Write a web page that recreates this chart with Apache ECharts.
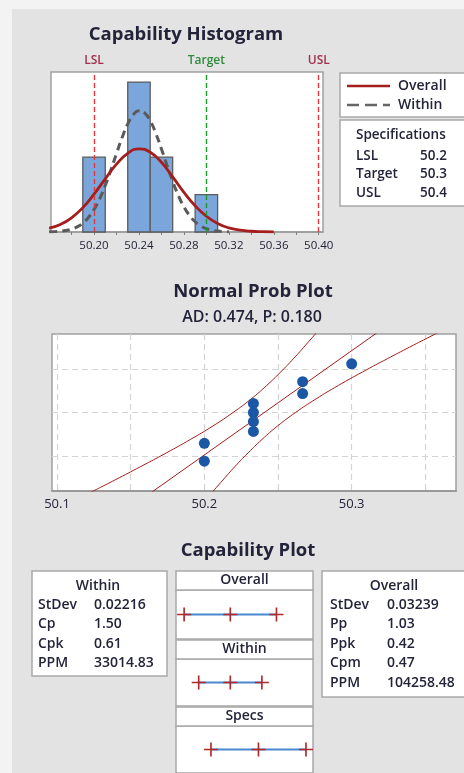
<!DOCTYPE html>
<html>
<head>
<meta charset="utf-8">
<script src="https://cdn.jsdelivr.net/npm/echarts@6/dist/echarts.min.js"></script>
<style>
html, body { margin: 0; padding: 0; background: #f3f3f3; }
#panel { position: absolute; left: 12px; top: 9px; width: 452px; height: 764px; background: #e3e3e3; }
#chart { position: absolute; left: 0; top: 0; width: 464px; height: 773px; }
</style>
</head>
<body>
<div id="panel"></div>
<div id="chart"></div>
<script>
// histogram data
var binCenters = [50.20, 50.24, 50.26, 50.30];
var binCounts = [2, 4, 2, 1];
var binWidth = 0.02;
var specNames = ['LSL', 'Target', 'USL'];
var specValues = [50.2, 50.3, 50.4];
var histTicks = [50.18, 50.20, 50.22, 50.24, 50.26, 50.28, 50.30, 50.32, 50.34, 50.36, 50.38, 50.40];
var histLabels = [50.20, 50.24, 50.28, 50.32, 50.36, 50.40];

// fitted curves (counts)
var overallX = [50.16, 50.17, 50.18, 50.19, 50.20, 50.21, 50.22, 50.23, 50.24, 50.25, 50.26,
                50.27, 50.28, 50.29, 50.30, 50.31, 50.32, 50.33, 50.34, 50.35, 50.36];
var overallY = [0.10, 0.20, 0.38, 0.65, 1.01, 1.42, 1.81, 2.10, 2.22, 2.13, 1.86,
                1.47, 1.06, 0.70, 0.42, 0.23, 0.11, 0.05, 0.02, 0.008, 0.003];
var withinX = [50.160, 50.165, 50.170, 50.175, 50.180, 50.185, 50.190, 50.195, 50.200, 50.205,
               50.210, 50.215, 50.220, 50.225, 50.230, 50.235, 50.240, 50.245, 50.250, 50.255,
               50.260, 50.265, 50.270, 50.275, 50.280, 50.285, 50.290, 50.295, 50.300, 50.305,
               50.310, 50.315, 50.320];
var withinY = [0.004, 0.010, 0.020, 0.040, 0.076, 0.137, 0.237, 0.387, 0.600, 0.885,
               1.242, 1.653, 2.095, 2.521, 2.884, 3.134, 3.238, 3.180, 2.967, 2.631,
               2.217, 1.776, 1.352, 0.978, 0.672, 0.439, 0.273, 0.161, 0.090, 0.048,
               0.024, 0.012, 0.005];

// normal probability plot (x = value, y = normal score)
var probX = [50.2, 50.2, 50.2333, 50.2333, 50.2333, 50.2333, 50.2667, 50.2667, 50.3];
var probZ = [-1.443, -0.912, -0.561, -0.270, 0, 0.270, 0.561, 0.912, 1.443];
var probTicks = [50.1, 50.15, 50.2, 50.25, 50.3, 50.35];
var probLabels = [50.1, 50.2, 50.3];
var probGridZ = [-1.2816, 0, 1.2816];
var fitZ = [-2.4, 2.4];
var fitX = [50.1630, 50.3184];
var bandZ = [-2.4, -2.0, -1.6, -1.2, -0.8, -0.4, 0, 0.4, 0.8, 1.2, 1.6, 2.0, 2.4];
var bandLowX = [50.1213, 50.1393, 50.1569, 50.1741, 50.1905, 50.2058, 50.2195,
                50.2317, 50.2423, 50.2518, 50.2606, 50.2688, 50.2768];
var bandHighX = [50.2046, 50.2126, 50.2208, 50.2296, 50.2391, 50.2497, 50.2619,
                 50.2757, 50.2909, 50.3073, 50.3245, 50.3421, 50.3601];

// capability plot
var overallMarks = [50.1435, 50.2407, 50.3379];
var withinMarks = [50.1742, 50.2407, 50.3072];
var specMarks = [50.2, 50.3, 50.4];

var withinLabels = ['StDev', 'Cp', 'Cpk', 'PPM'];
var withinValues = ['0.02216', '1.50', '0.61', '33014.83'];
var overallLabels = ['StDev', 'Pp', 'Ppk', 'Cpm', 'PPM'];
var overallValues = ['0.03239', '1.03', '0.42', '0.47', '104258.48'];

var FONT = "'Open Sans', 'Noto Sans', sans-serif";
var TXT = '#23233a';
var RED = '#a51d1d';
var BOX = '#a9a9a9';

var myChart = echarts.init(document.getElementById('chart'));

function pairs(xs, ys) {
    return xs.map(function (x, i) { return [x, ys[i]]; });
}
function txt(s, x, y, size, weight, align, color) {
    return {
        type: 'text', z: 10,
        style: {
            text: s, x: x, y: y,
            font: (weight || 'normal') + ' ' + size + 'px ' + FONT,
            fill: color || TXT,
            textAlign: align || 'left', textVerticalAlign: 'middle'
        }
    };
}
function box(x, y, w, h) {
    return {
        type: 'rect', z: 5,
        shape: { x: x, y: y, width: w, height: h },
        style: { fill: '#fff', stroke: BOX, lineWidth: 1.5 }
    };
}

var graphics = [
    txt('Capability Histogram', 186, 35, 18.5, 'bold', 'center'),
    txt('Normal Prob Plot', 253, 292, 18.5, 'bold', 'center'),
    txt('AD: 0.474, P: 0.180', 252, 317, 16, '600', 'center'),
    txt('Capability Plot', 248, 551, 18.5, 'bold', 'center'),
    // legend box
    box(340, 73, 140, 44),
    { type: 'line', z: 10, shape: { x1: 347, y1: 86, x2: 390, y2: 86 }, style: { stroke: RED, lineWidth: 2.5 } },
    { type: 'line', z: 10, shape: { x1: 347, y1: 105, x2: 390, y2: 105 }, style: { stroke: '#666', lineWidth: 2.5, lineDash: [12, 6] } },
    txt('Overall', 398, 86, 14, '600'),
    txt('Within', 398, 105, 14, '600'),
    // specifications box
    box(340, 120, 140, 86),
    txt('Specifications', 356, 135, 13.5, '600')
];
specNames.forEach(function (n, i) {
    graphics.push(txt(n, 356, 156 + i * 18.5, 13.5, '600'));
    graphics.push(txt(String(specValues[i]), 420, 156 + i * 18.5, 13.5, '600'));
});
// within box
graphics.push(box(32, 571, 135, 105));
graphics.push(txt('Within', 98, 586, 14, '600', 'center'));
withinLabels.forEach(function (n, i) {
    graphics.push(txt(n, 38, 605 + i * 19.3, 14, '600'));
    graphics.push(txt(withinValues[i], 94, 605 + i * 19.3, 14, '600'));
});
// overall box
graphics.push(box(322, 571, 150, 126));
graphics.push(txt('Overall', 394, 586, 14, '600', 'center'));
overallLabels.forEach(function (n, i) {
    graphics.push(txt(n, 330, 605 + i * 19.4, 14, '600'));
    graphics.push(txt(overallValues[i], 387, 605 + i * 19.4, 14, '600'));
});
// capability plot headers
[['Overall', 571], ['Within', 640], ['Specs', 707]].forEach(function (h) {
    graphics.push(box(176, h[1], 137, 19));
    graphics.push(txt(h[0], 244.5, h[1] + 9.5, 14, '600', 'center'));
});

var hiddenX = function (g) {
    return { gridIndex: g, type: 'value', min: 50.1264, max: 50.4148, show: false };
};
var hiddenY = function (g) {
    return { gridIndex: g, type: 'value', min: -1, max: 1, show: false };
};
var plusPath = 'path://M6,0h1.6v14h-1.6zM0,6.2h13.6v1.6h-13.6z';

function capSeries(g, marks) {
    return [
        {
            type: 'line', xAxisIndex: g, yAxisIndex: g, symbol: 'none', silent: true,
            lineStyle: { color: '#4a88d4', width: 2 },
            data: [[marks[0], 0], [marks[marks.length - 1], 0]]
        },
        {
            type: 'scatter', xAxisIndex: g, yAxisIndex: g, symbol: plusPath, symbolSize: [14, 14],
            itemStyle: { color: '#b02a2a', opacity: 1 }, z: 5,
            data: marks.map(function (m) { return [m, 0]; })
        }
    ];
}

option = {
    animation: false,
    textStyle: { fontFamily: FONT },
    grid: [
        { left: 51, top: 72, width: 272, height: 160, show: true, backgroundColor: '#fff', borderColor: '#a0a0a0', borderWidth: 1.5 },
        { left: 52, top: 334, width: 404, height: 157, show: true, backgroundColor: '#fff', borderColor: '#a0a0a0', borderWidth: 1.5 },
        { left: 176, top: 590, width: 137, height: 49, show: true, backgroundColor: '#fff', borderColor: BOX, borderWidth: 1.5 },
        { left: 176, top: 659, width: 137, height: 47, show: true, backgroundColor: '#fff', borderColor: BOX, borderWidth: 1.5 },
        { left: 176, top: 726, width: 137, height: 50, show: true, backgroundColor: '#fff', borderColor: BOX, borderWidth: 1.5 }
    ],
    xAxis: [
        {
            gridIndex: 0, type: 'value', min: 50.1617, max: 50.4038,
            axisLine: { show: true, onZero: false, lineStyle: { color: '#9a9a9a', width: 1.5 } },
            axisTick: { show: true, length: 3, customValues: histTicks, lineStyle: { color: '#808080' } },
            axisLabel: { customValues: histLabels, fontSize: 11.5, color: TXT, margin: 8,
                formatter: function (v) { return v.toFixed(2); } },
            splitLine: { show: false }
        },
        {
            gridIndex: 1, type: 'value', min: 50.0966, max: 50.3708,
            axisLine: { show: true, onZero: false, lineStyle: { color: '#9a9a9a', width: 2 } },
            axisTick: { show: false, customValues: probTicks },
            axisLabel: { customValues: probLabels, fontSize: 13, color: TXT, margin: 7,
                formatter: function (v) { return v.toFixed(1); } },
            splitLine: { show: true, lineStyle: { color: '#d4d4d4', type: [6, 4], width: 1.2 } }
        },
        hiddenX(2), hiddenX(3), hiddenX(4)
    ],
    yAxis: [
        { gridIndex: 0, type: 'value', min: 0, max: 4.27, show: false },
        {
            gridIndex: 1, type: 'value', min: -2.326, max: 2.326,
            axisLine: { show: false }, axisLabel: { show: false },
            axisTick: { show: false, customValues: probGridZ },
            splitLine: { show: true, lineStyle: { color: '#d4d4d4', type: [6, 4], width: 1.2 } }
        },
        hiddenY(2), hiddenY(3), hiddenY(4)
    ],
    graphic: graphics,
    series: [
        {
            type: 'custom', xAxisIndex: 0, yAxisIndex: 0, silent: true,
            data: binCenters.map(function (c, i) { return [c - binWidth / 2, c + binWidth / 2, binCounts[i]]; }),
            renderItem: function (params, api) {
                var p0 = api.coord([api.value(0), api.value(2)]);
                var p1 = api.coord([api.value(1), 0]);
                return {
                    type: 'rect',
                    shape: { x: p0[0], y: p0[1], width: p1[0] - p0[0], height: p1[1] - p0[1] },
                    style: { fill: '#7aa6dc', stroke: '#5c5c5c', lineWidth: 1.3 }
                };
            }
        },
        {
            type: 'line', xAxisIndex: 0, yAxisIndex: 0, symbol: 'none', smooth: true, silent: true, z: 3,
            lineStyle: { color: '#5a5a5a', width: 3, type: [8, 5] },
            data: pairs(withinX, withinY)
        },
        {
            type: 'line', xAxisIndex: 0, yAxisIndex: 0, symbol: 'none', smooth: true, silent: true, z: 4,
            lineStyle: { color: RED, width: 2.8 },
            data: pairs(overallX, overallY)
        },
        {
            type: 'line', xAxisIndex: 0, yAxisIndex: 0, data: [], silent: true,
            markLine: {
                silent: true, symbol: 'none', animation: false,
                data: specNames.map(function (n, i) {
                    var c = n === 'Target' ? '#1d9a2a' : '#e0393b';
                    var lc = n === 'Target' ? '#2e8a3a' : '#a0304e';
                    return {
                        xAxis: specValues[i], name: n,
                        lineStyle: { color: c, type: [5, 3], width: 1.4 },
                        label: { show: true, position: 'end', formatter: '{b}', color: lc, fontSize: 12, fontWeight: 600, distance: 5 }
                    };
                })
            }
        },
        {
            type: 'line', xAxisIndex: 1, yAxisIndex: 1, symbol: 'none', silent: true, smooth: true,
            lineStyle: { color: RED, width: 1 }, data: pairs(bandLowX, bandZ)
        },
        {
            type: 'line', xAxisIndex: 1, yAxisIndex: 1, symbol: 'none', silent: true, smooth: true,
            lineStyle: { color: RED, width: 1 }, data: pairs(bandHighX, bandZ)
        },
        {
            type: 'line', xAxisIndex: 1, yAxisIndex: 1, symbol: 'none', silent: true,
            lineStyle: { color: RED, width: 1 }, data: pairs(fitX, fitZ)
        },
        {
            type: 'scatter', xAxisIndex: 1, yAxisIndex: 1, symbolSize: 11, z: 5,
            itemStyle: { color: '#1c57a5', opacity: 1 }, data: pairs(probX, probZ)
        }
    ].concat(capSeries(2, overallMarks), capSeries(3, withinMarks), capSeries(4, specMarks))
};

myChart.setOption(option);
</script>
</body>
</html>
